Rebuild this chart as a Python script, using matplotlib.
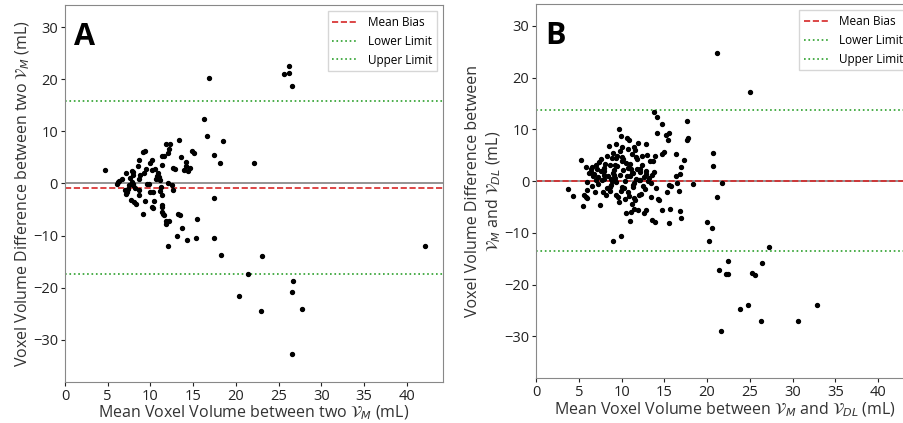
import numpy as np
import matplotlib
matplotlib.use('Agg')
import matplotlib.pyplot as plt

plt.rcParams['font.family'] = ['Open Sans', 'DejaVu Sans']

# panel A: two manual volumes (mean, difference)
a_x = [4.7, 16.9, 25.6, 26.2, 26.2, 26.6, 16.3, 16.6, 18.5, 17.4, 18.1, 22.1, 17.4, 15.4,
       17.4, 15.3, 14.3, 13.1, 12.1, 13.7, 18.2, 23.1, 21.4, 20.3, 22.9, 26.5, 26.7, 27.7,
       26.6, 42.1,
       6.2, 6.1, 6.3, 6.7, 7.1, 7.1, 7.3, 7.4, 7.5, 7.6, 7.8, 7.8, 7.9, 8.0, 7.9, 7.9,
       7.7, 8.1, 8.3, 8.5, 8.6, 8.6, 8.6, 8.7, 8.8, 9.1, 9.3, 9.2, 9.1, 9.4, 9.5, 9.8,
       9.9, 10.0, 10.2, 10.2, 10.3, 10.2, 10.3, 10.4, 10.5, 10.9, 11.1, 11.2, 11.1, 11.3,
       11.3, 11.4, 11.4, 11.5, 11.6, 11.3, 11.4, 11.6, 11.8, 12.1, 12.3, 12.2, 11.8, 11.8,
       12.2, 12.5, 12.6, 12.6, 12.9, 13.3, 13.2, 13.4, 13.6, 13.9, 14.1, 14.2, 14.4, 14.6,
       14.9, 15.1, 10.6, 11.0, 9.6, 8.2, 7.0, 12.0, 10.8]
a_y = [2.55, 20.2, 20.9, 22.6, 21.2, 18.7, 12.4, 9.0, 8.1, 5.4, 4.0, 4.0, -2.8, -6.8,
       -10.5, -10.4, -10.9, -10.0, -12.1, -8.6, -13.8, -14.0, -17.4, -21.6, -24.5, -20.8,
       -18.7, -24.1, -32.7, -12.1,
       0.2, -0.1, 0.4, 0.8, 2.0, -2.0, -1.7, -1.0, -0.3, 1.1, 2.4, 0.2, -0.3, -0.1, 1.7,
       2.1, -3.1, -3.6, -3.9, 3.3, 4.4, 0.9, -1.2, -2.2, 1.6, 6.0, 6.3, 1.9, -5.9, -3.3,
       2.8, -0.1, -1.7, 4.0, 4.4, 2.5, -1.7, -4.5, -4.8, -3.3, 2.8, 2.0, 0.6, -0.7, -1.5,
       -2.3, -4.2, -4.5, -5.4, -5.8, -6.1, 3.6, 5.3, 5.3, 7.5, 5.8, 7.5, 6.6, -7.2, -7.7,
       -7.2, -0.4, -1.3, 3.0, 2.8, 8.4, -5.9, -6.1, 5.0, 2.5, 4.1, 3.4, 2.4, 2.9, 6.3,
       5.9, 0.8, 1.3, -0.2, -0.8, -1.3, 0.1, 1.5]
a_bias, a_low, a_up = -0.9, -17.3, 15.8

# panel B: manual vs deep-learning volumes
b_x = [21.2, 25.0, 13.75, 14.2, 14.7, 14.2, 15.6, 15.2, 15.4, 17.6, 17.8, 17.7, 17.3, 16.9,
       16.4, 15.0, 14.7, 20.7, 20.7, 21.8, 21.2, 18.4, 20.0, 20.6, 20.2, 16.8, 16.9, 15.6,
       15.7, 13.6, 13.9, 12.8, 12.6, 14.7, 14.3, 14.4, 15.3, 15.5, 15.8, 16.5, 16.4, 16.8,
       16.7, 9.0, 9.9, 11.0, 27.3, 21.4, 22.5, 22.2, 22.5, 25.3, 25.6, 26.4, 23.9, 24.8,
       26.3, 21.6, 30.6, 32.9,
       3.7, 4.3, 5.2, 5.5, 5.6, 5.8, 5.9, 5.9, 5.8, 6.4, 6.4, 6.6, 6.8, 6.9, 7.1, 7.3,
       7.5, 7.4, 7.6, 7.7, 7.9, 8.0, 8.2, 8.3, 8.5, 8.6, 8.8, 8.8, 9.0, 9.1, 9.0, 9.2,
       9.3, 9.4, 9.5, 9.6, 9.7, 9.8, 9.9, 10.0, 10.1, 10.2, 10.3, 10.5, 10.6, 10.7, 10.8,
       10.9, 11.0, 11.1, 11.2, 11.2, 11.3, 11.4, 11.5, 11.6, 11.7, 11.8, 11.9, 12.0, 12.2,
       12.3, 12.4, 12.6, 12.8, 12.9, 13.1, 13.3, 13.5, 13.6, 13.7, 13.8, 14.0, 11.2, 11.6,
       11.9, 11.4, 11.1, 10.5, 9.7,
       6.2, 6.7, 7.0, 7.6, 7.9, 8.1, 8.4, 8.7, 8.9, 9.2, 9.5, 9.8, 10.1, 10.4, 10.8,
       11.0, 11.3, 11.7, 12.1, 12.5, 12.9, 13.2, 6.0, 6.5, 7.2, 7.8, 8.3, 8.9, 9.3, 9.9,
       10.4, 10.9, 11.5, 12.0, 12.7, 13.4, 7.0, 8.0, 9.1, 10.2, 11.3, 12.4, 13.0, 10.6,
       11.8, 8.6, 9.4, 10.0, 12.2, 13.9]
b_y = [24.7, 17.2, 13.3, 12.3, 11.0, 9.3, 9.3, 8.9, 7.9, 11.7, 8.4, 7.9, 4.1, 2.8,
       5.2, 5.6, 5.3, 5.5, 2.9, -0.3, -3.0, -0.6, -8.0, -9.0, -11.5, -5.8, -7.2, -8.1,
       -5.3, -7.5, -8.0, -5.6, -6.1, -5.6, -3.4, -3.7, -2.1, -0.8, -0.9, -0.3, 1.0, 1.3,
       -2.0, -11.5, -10.6, -7.7, -12.8, -17.2, -15.4, -17.9, -17.9, -17.8, -18.1, -15.8,
       -24.8, -24.0, -27.1, -28.9, -27.1, -23.9,
       -1.6, -2.8, 4.1, -4.9, -2.6, -3.1, -0.1, -1.8, 2.7, 2.4, 1.7, 2.7, 1.4, -2.1, 2.3,
       0.7, -4.7, 3.6, 4.3, 0.3, 2.0, 1.2, -2.7, 4.8, 6.7, 3.1, 0.5, -0.8, 1.5, 2.1, 5.4,
       3.1, -0.1, 7.2, 4.8, -3.0, 10.0, 5.8, 8.8, 6.5, 4.6, 2.1, -1.4, 3.5, 8.4, 6.3,
       -2.1, 8.0, 3.4, 2.4, 5.3, 1.6, -0.8, -3.2, 6.5, 6.1, 4.7, 2.4, 7.3, 0.2, 1.8,
       -2.4, 4.8, 0.7, 7.2, 1.9, 0.1, 3.9, -3.1, 1.1, 3.8, 1.8, -1.3, -4.4, -3.6, -5.6,
       -5.3, -6.0, -6.2, -4.0,
       1.6, 0.9, 3.2, 1.9, 0.4, 3.4, 1.0, -1.9, 4.5, 0.6, 2.9, 1.2, 3.9, 0.1, 2.6, 0.9,
       -1.1, 0.4, 2.3, -0.9, 1.4, 0.6, -3.3, -1.0, -0.6, -2.2, -1.4, 0.0, -2.6, -1.9,
       -3.5, -2.8, -0.3, -2.6, -1.5, -0.4, 0.2, 2.6, 1.1, 4.2, 1.5, 3.2, 5.1, 1.0, 4.2,
       -1.2, 4.4, -1.2, 0.3, 4.9]
b_bias, b_low, b_up = 0.1, -13.6, 13.7

fig = plt.figure(figsize=(9.04, 4.23), dpi=100)
axA = fig.add_axes([0.0719, 0.0969, 0.418, 0.891])
axB = fig.add_axes([0.593, 0.106, 0.418, 0.884])


def bland_altman(ax, x, y, bias, low, up, letter):
    ax.scatter(x, y, s=8, color='black', zorder=3)
    ax.axhline(0, color='gray', lw=1.2, zorder=1)
    ax.axhline(bias, color='tab:red', ls='--', lw=1.2, label='Mean Bias', zorder=2)
    ax.axhline(low, color='tab:green', ls=':', lw=1.2, label='Lower Limit')
    ax.axhline(up, color='tab:green', ls=':', lw=1.2, label='Upper Limit')
    ax.set_xlim(0, 44.2)
    ax.set_ylim(-38.1, 34.2)
    ax.set_xticks(np.arange(0, 45, 5))
    ax.set_yticks(np.arange(-30, 31, 10))
    ax.tick_params(labelsize=10.5, colors='#222222', length=3, pad=2)
    for s in ax.spines.values():
        s.set_color('#888888')
    ax.legend(loc='upper right', fontsize=8.5, fancybox=False, edgecolor='#cccccc',
              handlelength=2.2)
    ax.text(0.025, 0.955, letter, transform=ax.transAxes, fontsize=22,
            fontweight='bold', va='top', ha='left')


bland_altman(axA, a_x, a_y, a_bias, a_low, a_up, 'A')
axA.set_xlabel(r'Mean Voxel Volume between two $\mathcal{V}_M$ (mL)', fontsize=11.5,
               color='#333333', labelpad=0)
axA.set_ylabel(r'Voxel Volume Difference between two $\mathcal{V}_M$ (mL)', fontsize=11.5,
               color='#333333', labelpad=1)

bland_altman(axB, b_x, b_y, b_bias, b_low, b_up, 'B')
axB.set_xlabel(r'Mean Voxel Volume between $\mathcal{V}_M$ and $\mathcal{V}_{DL}$ (mL)',
               fontsize=11.5, color='#333333', labelpad=0)
axB.set_ylabel('Voxel Volume Difference between\n'
               r'$\mathcal{V}_M$ and $\mathcal{V}_{DL}$ (mL)', fontsize=11.5,
               color='#333333', labelpad=1)

fig.savefig('out.png', dpi=100)
